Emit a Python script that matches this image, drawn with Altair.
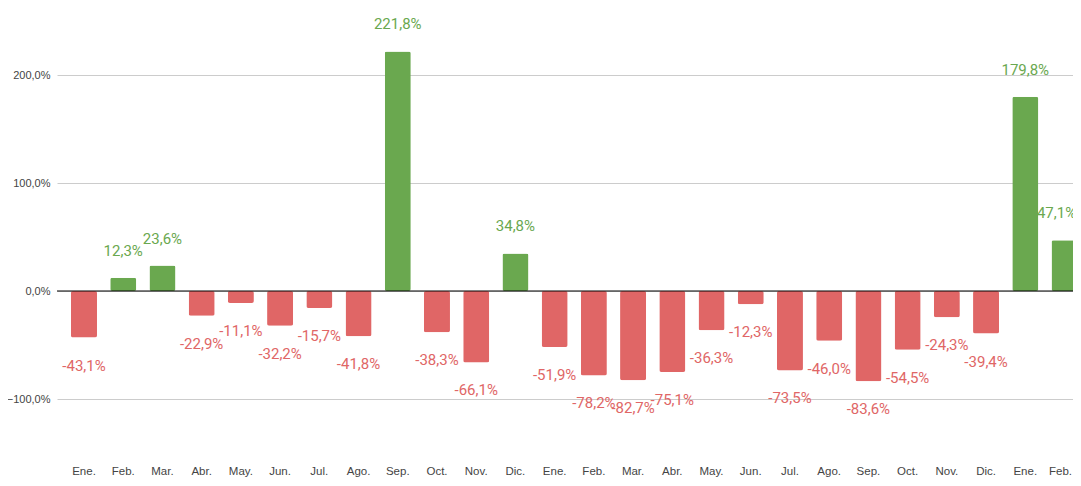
import altair as alt
import pandas as pd

months = ["Ene.", "Feb.", "Mar.", "Abr.", "May.", "Jun.", "Jul.", "Ago.", "Sep.", "Oct.", "Nov.", "Dic.",
          "Ene.", "Feb.", "Mar.", "Abr.", "May.", "Jun.", "Jul.", "Ago.", "Sep.", "Oct.", "Nov.", "Dic.",
          "Ene.", "Feb."]
years = ["'22"] * 12 + ["'23"] * 12 + ["'24"] * 2
values = [-43.1, 12.3, 23.6, -22.9, -11.1, -32.2, -15.7, -41.8, 221.8, -38.3, -66.1, 34.8,
          -51.9, -78.2, -82.7, -75.1, -36.3, -12.3, -73.5, -46.0, -83.6, -54.5, -24.3, -39.4,
          179.8, 47.1]

cats = [f"{m}\n{y}" for m, y in zip(months, years)]
texts = [f"{v:.1f}".replace(".", ",") + "%" for v in values]
signs = ["pos" if v >= 0 else "neg" for v in values]
df = pd.DataFrame({"mes": cats, "valor": values, "texto": texts, "signo": signs})

GREEN = "#6aa84f"
RED = "#e06666"
AXFONT = "Liberation Sans, Arial, sans-serif"
LAST = cats[-1]

x = alt.X("mes:N", sort=cats,
          scale=alt.Scale(paddingInner=0.337, paddingOuter=0.223, align=0.8),
          axis=alt.Axis(title=None, labelAngle=0, domain=False, ticks=False,
                        labelExpr="split(datum.label, '\\n')",
                        labelFont=AXFONT, labelFontSize=11.5, labelColor="#444444",
                        labelPadding=12, labelLineHeight=15,
                        labelOffset={"condition": {"test": "datum.index === 1", "value": -4}, "value": 0}))
y = alt.Y("valor:Q",
          scale=alt.Scale(domain=[-150, 250], nice=False, zero=False),
          axis=alt.Axis(title=None, values=[-100, 0, 100, 200], domain=False, ticks=False,
                        labelExpr="replace(format(datum.value, '.1f'), '.', ',') + '%'",
                        labelFont=AXFONT, labelFontSize=11, labelColor="#444444",
                        labelPadding=7, gridColor="#cccccc", gridWidth=1))

color = alt.Color("signo:N", scale=alt.Scale(domain=["pos", "neg"], range=[GREEN, RED]), legend=None)

base = alt.Chart(df)
bars = base.mark_bar(cornerRadius=2).encode(x=x, y=y, color=color)
zero = alt.Chart(pd.DataFrame({"z": [0]})).mark_rule(color="#000000", strokeWidth=1).encode(y=alt.Y("z:Q"))

tx = alt.X("mes:N", sort=cats)
ty = alt.Y("valor:Q")
pos = base.transform_filter(f"datum.valor >= 0 && datum.mes !== {LAST!r}").mark_text(
    font="Roboto", fontSize=15, dy=-27, baseline="middle").encode(
    x=tx, y=ty, text="texto:N", color=alt.value(GREEN))
pos_last = base.transform_filter(f"datum.valor >= 0 && datum.mes === {LAST!r}").mark_text(
    font="Roboto", fontSize=15, dy=-27, dx=-8, baseline="middle").encode(
    x=tx, y=ty, text="texto:N", color=alt.value(GREEN))
neg = base.transform_filter("datum.valor < 0").mark_text(
    font="Roboto", fontSize=15, dy=28, baseline="middle").encode(
    x=tx, y=ty, text="texto:N", color=alt.value(RED))

chart = alt.layer(bars, zero, pos, pos_last, neg).properties(
    width=1024, height=432,
    autosize=alt.AutoSizeParams(type="none"),
    padding={"left": 49, "top": 13, "right": -8, "bottom": 25},
    background="#ffffff",
).configure_view(stroke=None)

chart.save("out.html", embed_options={"renderer": "svg", "actions": False})
